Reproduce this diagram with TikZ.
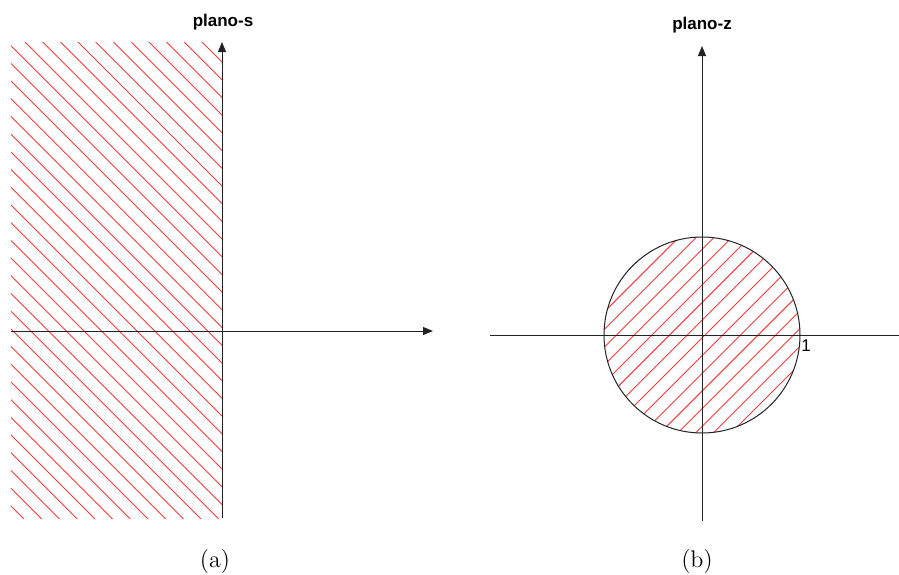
\documentclass[tikz,border=0pt]{standalone}
\usepackage{fontspec}
\newfontfamily\labelfont{Liberation Sans}
\usetikzlibrary{arrows.meta, positioning}
\definecolor{axis-grey}{HTML}{222222}
\definecolor{hatch-red}{HTML}{F03C3C}

\begin{document}
\begin{tikzpicture}[
  x=0.5pt, y=-0.5pt,
  axis/.style={-{Triangle[length=5pt,width=4pt]}, line width=0.5pt, axis-grey},
  plain/.style={line width=0.5pt, axis-grey},
  hatch/.style={line width=0.45pt, hatch-red},
  plane/.style={font=\labelfont\bfseries\fontsize{8.5}{10}\selectfont, inner sep=0pt},
  tick/.style={font=\labelfont\fontsize{8.5}{10}\selectfont, inner sep=1pt},
  caption/.style={font=\fontsize{12}{14}\selectfont, inner sep=0pt}
]
  \useasboundingbox (0,0) rectangle (899,574);

  % (a) left half-plane
  \begin{scope}
    \clip (11,42) rectangle (222,518);
    \foreach \k in {0,...,40}
      \draw[hatch] ({160-17.7*\k},0) -- ({760-17.7*\k},600);
  \end{scope}
  \coordinate (s-left)   at (11,331);
  \coordinate (s-right)  at (433,331);
  \coordinate (s-bottom) at (222,518);
  \coordinate (s-top)    at (222,42);
  \draw[axis] (s-left) -- (s-right);
  \draw[axis] (s-bottom) -- (s-top);
  \node[plane] (plano-s) at (223,22) {plano-s};
  \node[caption] (cap-a) at (215,561) {(a)};

  % (b) unit circle
  \coordinate (z-centre) at (702,335);
  \begin{scope}
    \clip (z-centre) circle[radius=49pt];
    \foreach \k in {-9,...,9}
      \draw[hatch] ({1040+17.7*\k-600},600) -- ({1040+17.7*\k},0);
  \end{scope}
  \draw[plain] (z-centre) circle[radius=49pt];
  \coordinate (z-left)   at (490,335);
  \coordinate (z-right)  at (899,335);
  \coordinate (z-bottom) at (702,521);
  \coordinate (z-top)    at (702,46);
  \draw[plain] (z-left) -- (z-right);
  \draw[axis] (z-bottom) -- (z-top);
  \node[tick, anchor=north west] (one) at (799,337) {1};
  \node[plane] (plano-z) at (702,25) {plano-z};
  \node[caption] (cap-b) at (697,561) {(b)};
\end{tikzpicture}
\end{document}
